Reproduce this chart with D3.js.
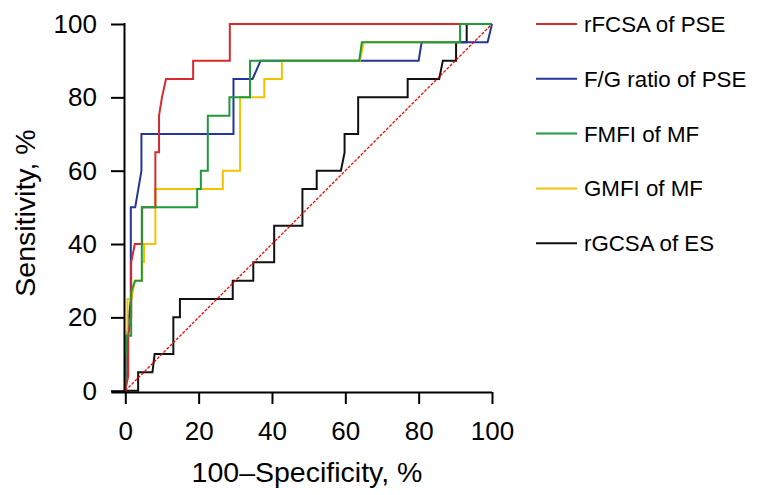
<!DOCTYPE html>
<html>
<head>
<meta charset="utf-8">
<script src="https://cdn.jsdelivr.net/npm/d3@7"></script>
<style>
  html, body { margin: 0; padding: 0; background: #fff; }
  svg { display: block; font-family: "Liberation Sans", Arial, Helvetica, sans-serif; }
</style>
</head>
<body>
<svg id="chart" width="761" height="495"></svg>
<script>
// ---- data (100-Specificity %, Sensitivity %) ----
const seriesNames = ["rFCSA of PSE", "F/G ratio of PSE", "FMFI of MF", "GMFI of MF", "rGCSA of ES"];

const rfcsaPSE = [[0,0],[0.8,4],[0.8,15],[1.6,20],[1.6,35],[2.6,40],[4.6,40],[4.6,50],[8.2,50],[8.2,65],[9.2,65],[9.2,75],[10,80],[11.1,85],[18.5,85],[18.5,90],[28.5,90],[28.5,100],[100,100]];
const fgRatioPSE = [[0,0],[0.5,5],[0.5,15],[1.5,25],[1.5,50],[2.7,50],[4.4,60],[4.4,70],[29.5,70],[29.5,85],[34.7,85],[36.9,90],[80,90],[80.8,95],[98.8,95],[100,100]];
const fmfiMF = [[0,0],[0,10],[0.3,10],[0.3,15],[1.6,15],[1.6,27],[2.7,30],[4.5,30],[4.5,50],[19.6,50],[19.6,55],[20.6,55],[20.6,60],[22.5,60],[22.5,75],[28.4,75],[28.4,80],[34,80],[34,90],[63.8,90],[64.5,95],[91.3,95],[91.3,100],[100,100]];
const gmfiMF = [[0,0],[0,15],[0.6,15],[0.6,25],[1.7,25],[2.6,30],[4.6,30],[4.6,35],[5.1,35],[5.1,40],[8.2,40],[8.2,55],[26.6,55],[26.6,60],[31.3,60],[31.3,80],[37.9,80],[37.9,85],[42.7,85],[42.7,90],[64,90],[65,95],[91.3,95],[91.3,100],[100,100]];
const rgcsaES = [[0,0],[3.5,0],[3.5,5],[7.4,5],[8,10],[13.1,10],[13.1,20],[14.9,20],[14.9,25],[29.3,25],[29.3,30],[34.9,30],[34.9,35],[40.6,35],[40.6,45],[48.3,45],[48.3,55],[52.2,55],[52.2,60],[58.8,60],[59.8,65],[59.8,70],[63.5,70],[63.5,80],[77,80],[77,85],[85.6,85],[86.6,90],[90.2,90],[90.2,95],[93.1,95],[93.1,100],[100,100]];
const referenceLine = [[0,0],[100,100]];

const xTicks = [0, 20, 40, 60, 80, 100];
const yTicks = [0, 20, 40, 60, 80, 100];
const xTitle = "100\u2013Specificity, %";
const yTitle = "Sensitivity, %";

// ---- styles ----
const colors = {
  "rFCSA of PSE": "#d62a2e",
  "F/G ratio of PSE": "#23369c",
  "FMFI of MF": "#1f9a3c",
  "GMFI of MF": "#f6c200",
  "rGCSA of ES": "#111111"
};
const dataByName = {
  "rFCSA of PSE": rfcsaPSE,
  "F/G ratio of PSE": fgRatioPSE,
  "FMFI of MF": fmfiMF,
  "GMFI of MF": gmfiMF,
  "rGCSA of ES": rgcsaES
};
const drawOrder = ["rGCSA of ES", "F/G ratio of PSE", "GMFI of MF", "rFCSA of PSE", "FMFI of MF"];

const svg = d3.select("#chart");
const x = d3.scaleLinear().domain([0, 100]).range([125.3, 492]);
const y = d3.scaleLinear().domain([0, 100]).range([390.7, 24]);

const line = d3.line().x(d => x(d[0])).y(d => y(d[1]));

// curves
const plot = svg.append("g");
drawOrder.forEach(name => {
  plot.append("path")
    .datum(dataByName[name])
    .attr("d", line)
    .attr("fill", "none")
    .attr("stroke", colors[name])
    .attr("stroke-width", 2)
    .attr("stroke-linejoin", "miter");
});
plot.append("path")
  .datum(referenceLine)
  .attr("d", line)
  .attr("fill", "none")
  .attr("stroke", "#ff0000")
  .attr("stroke-width", 1.3)
  .attr("stroke-dasharray", "3,1.5");

// axes
const xAxis = d3.axisBottom(x).tickValues(xTicks).tickSize(12).tickSizeOuter(0).tickPadding(18);
const gx = svg.append("g").attr("transform", "translate(0,392)").call(xAxis);
gx.select(".domain").attr("d", `M${x(0) - 14},0.5H${x(100)}`);
const yAxis = d3.axisLeft(y).tickValues(yTicks).tickSize(13).tickSizeOuter(0).tickPadding(14);
const gy = svg.append("g").attr("transform", "translate(124,0)").call(yAxis);
gy.select(".domain").attr("d", `M0.5,${y(0) + 1.5}V${y(100) - 1}`);

[gx, gy].forEach(g => {
  g.selectAll(".domain").attr("stroke", "#000").attr("stroke-width", 2);
  g.selectAll(".tick line").attr("stroke", "#000").attr("stroke-width", 2);
  g.selectAll(".tick text").attr("fill", "#000").attr("font-size", 26)
    .attr("font-family", "Liberation Sans, Arial, sans-serif");
});

// axis titles
svg.append("text")
  .attr("x", 307).attr("y", 482)
  .attr("text-anchor", "middle")
  .attr("font-size", 28.5)
  .attr("fill", "#000")
  .text(xTitle);
svg.append("text")
  .attr("transform", "translate(35,213) rotate(-90)")
  .attr("text-anchor", "middle")
  .attr("font-size", 28.5)
  .attr("fill", "#000")
  .text(yTitle);

// legend
const legend = svg.append("g");
seriesNames.forEach((name, i) => {
  const ly = 24 + i * 54.8;
  legend.append("line")
    .attr("x1", 536).attr("x2", 577)
    .attr("y1", ly).attr("y2", ly)
    .attr("stroke", colors[name]).attr("stroke-width", 2);
  legend.append("text")
    .attr("x", 584).attr("y", ly)
    .attr("dy", "0.36em")
    .attr("font-size", 22.3)
    .attr("fill", "#000")
    .text(name);
});
</script>
</body>
</html>
